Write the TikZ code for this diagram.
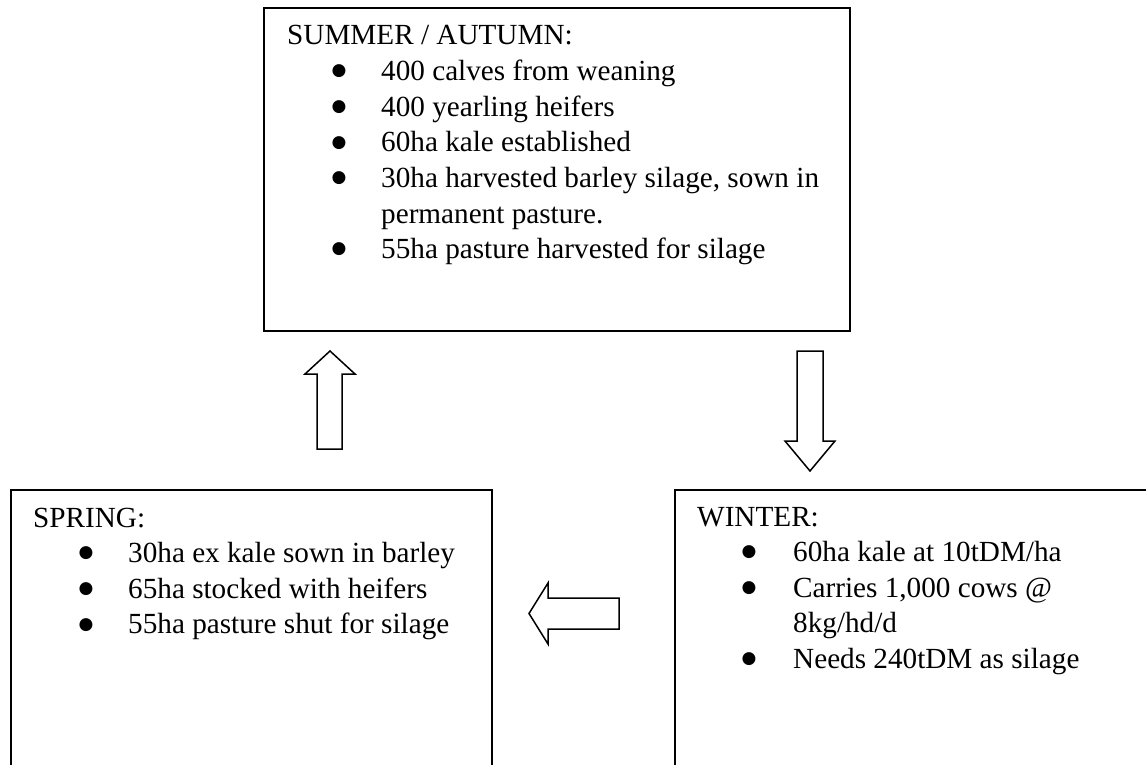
\documentclass[tikz,border=0pt]{standalone}
\usepackage{fontspec}
\setmainfont{Liberation Serif}
\newfontfamily\bulfont{DejaVu Sans}
\begin{document}
\begin{tikzpicture}[x=1pt,y=-1pt,
  box/.style={draw, line width=1.7pt},
  blockarrow/.style={draw, line width=1.5pt, line join=miter},
  lbl/.style={anchor=base west, inner sep=0pt, font=\fontsize{29.2}{35.6}\selectfont},
  bul/.style={anchor=base, inner sep=0pt, yshift=4.8pt, font=\bulfont\fontsize{17}{17}\selectfont},
]
\useasboundingbox (0,0) rectangle (1146,765);
\clip (0,0) rectangle (1146,765);
\fill[white] (0,0) rectangle (1146,765);

% boxes
\draw[box] (264,8) rectangle (850,331);
\coordinate (summer) at (264,8);
\draw[box] (11,490) rectangle (492,800);
\coordinate (spring) at (11,490);
\draw[box] (675,490) rectangle (1200,800);
\coordinate (winter) at (675,490);

% SUMMER / AUTUMN
\node[lbl] (sh) at (287,45) {SUMMER / AUTUMN:};
\node[bul] (sb1) at (339,80.6) {●};
\node[lbl] (st1) at (381,80.6) {400 calves from weaning};
\node[bul] (sb2) at (339,116.2) {●};
\node[lbl] (st2) at (381,116.2) {400 yearling heifers};
\node[bul] (sb3) at (339,151.8) {●};
\node[lbl] (st3) at (381,151.8) {60ha kale established};
\node[bul] (sb4) at (339,187.4) {●};
\node[lbl] (st4) at (381,187.4) {30ha harvested barley silage, sown in};
\node[lbl] (st4b) at (381,223) {permanent pasture.};
\node[bul] (sb5) at (339,258.6) {●};
\node[lbl] (st5) at (381,258.6) {55ha pasture harvested for silage};

% SPRING
\node[lbl] (ph) at (33,527) {SPRING:};
\node[bul] (pb1) at (86,562.6) {●};
\node[lbl] (pt1) at (128,562.6) {30ha ex kale sown in barley};
\node[bul] (pb2) at (86,598.2) {●};
\node[lbl] (pt2) at (128,598.2) {65ha stocked with heifers};
\node[bul] (pb3) at (86,633.8) {●};
\node[lbl] (pt3) at (128,633.8) {55ha pasture shut for silage};

% WINTER
\node[lbl] (wh) at (697,526) {WINTER:};
\node[bul] (wb1) at (749,561.6) {●};
\node[lbl] (wt1) at (793,561.6) {60ha kale at 10tDM/ha};
\node[bul] (wb2) at (749,597.2) {●};
\node[lbl] (wt2) at (793,597.2) {Carries 1,000 cows @};
\node[lbl] (wt2b) at (793,632.8) {8kg/hd/d};
\node[bul] (wb3) at (749,668.4) {●};
\node[lbl] (wt3) at (793,668.4) {Needs 240tDM as silage};

% block arrows
\draw[blockarrow] (330,351) -- (355,374) -- (342,374) -- (342,449) -- (317,449) -- (317,374) -- (305,374) -- cycle;
\draw[blockarrow] (810,471) -- (835,441) -- (823,441) -- (823,351) -- (797,351) -- (797,441) -- (785,441) -- cycle;
\draw[blockarrow] (529,613.5) -- (548,583) -- (548,598) -- (619,598) -- (619,629) -- (548,629) -- (548,644) -- cycle;
\end{tikzpicture}
\end{document}
